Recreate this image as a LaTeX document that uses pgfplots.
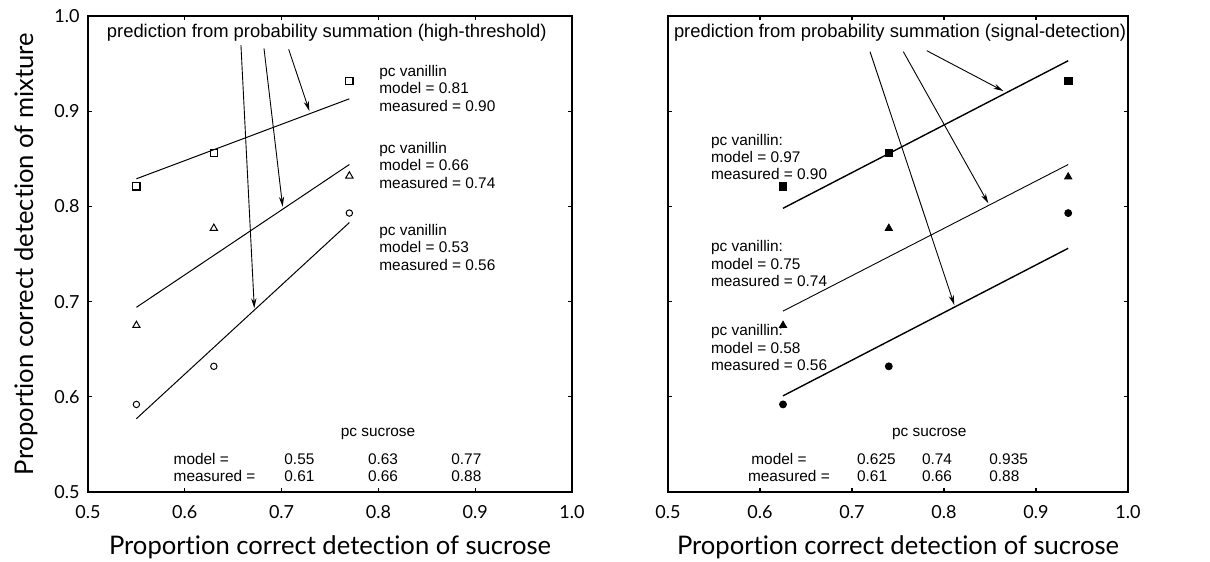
\documentclass[border=0pt]{standalone}
\usepackage{fontspec}
\setmainfont{Liberation Sans}
\newfontfamily\lato[Ligatures={NoCommon}]{Lato}
\usepackage{pgfplots}
\pgfplotsset{compat=1.18}
\usetikzlibrary{arrows.meta}

\pgfplotsset{
  panel/.style={
    scale only axis, anchor=south west, height=238pt,
    xmin=0.5, xmax=1.0, ymin=0.5, ymax=1.0,
    xtick={0.5,0.6,0.7,0.8,0.9,1.0},
    ytick={0.5,0.6,0.7,0.8,0.9,1.0},
    xticklabels={0.5,0.6,0.7,0.8,0.9,1.0},
    yticklabels={0.5,0.6,0.7,0.8,0.9,1.0},
    tick align=inside, major tick length=2.2pt,
    axis line style={line width=0.9pt},
    every tick/.style={black, line width=0.6pt},
    xticklabel style={font=\lato\fontsize{9}{10}\selectfont, anchor=north, inner sep=0pt, yshift=-6.6pt},
    yticklabel style={font=\lato\fontsize{9}{10}\selectfont, anchor=east, inner sep=0pt, xshift=-4pt},
    xlabel style={font=\lato\fontsize{12.8}{14}\selectfont, at={(axis description cs:0.5,0)}, anchor=center, yshift=-27.5pt},
    ylabel style={font=\lato\fontsize{12.8}{14}\selectfont, at={(axis description cs:0,0.5)}, anchor=center, yshift=31pt},
    clip=false,
  },
}
\tikzset{
  ann/.style={font=\fontsize{7.7}{8.65}\selectfont, align=left, anchor=west, inner sep=0pt},
  tab/.style={font=\fontsize{7.7}{8.65}\selectfont, anchor=west, inner sep=0pt},
  ttl/.style={font=\fontsize{9.2}{11}\selectfont, anchor=center, inner sep=0pt},
  arr/.style={-{Stealth[length=5pt,width=2.6pt]}, line width=0.45pt},
}

\begin{document}
\begin{tikzpicture}
\path[use as bounding box] (0,0) rectangle (605pt,281pt);

% ---------------- left panel: high-threshold ----------------
\begin{axis}[panel, at={(44pt,35pt)}, width=242pt,
  xlabel={Proportion correct detection of sucrose},
  ylabel={Proportion correct detection of mixture}]
  % model predictions
  \addplot[black, line width=0.5pt] coordinates {(0.55,0.829) (0.77,0.913)};
  \addplot[black, line width=0.5pt] coordinates {(0.55,0.694) (0.77,0.844)};
  \addplot[black, line width=0.5pt] coordinates {(0.55,0.577) (0.77,0.783)};
  % measured
  \addplot[only marks, mark=square, mark size=1.8pt, mark options={line width=0.55pt, black}] coordinates {(0.55,0.821) (0.63,0.856) (0.77,0.932)};
  \addplot[only marks, mark=triangle, mark size=2.1pt, mark options={line width=0.5pt, black}] coordinates {(0.55,0.675) (0.63,0.777) (0.77,0.832)};
  \addplot[only marks, mark=o, mark size=1.6pt, mark options={line width=0.5pt, black}] coordinates {(0.55,0.592) (0.63,0.632) (0.77,0.793)};
  % annotations
  \node[ttl] at (axis cs:0.7467,0.982) {prediction from probability summation (high-threshold)};
  \draw[arr] (axis cs:0.658,0.9695) -- (axis cs:0.6718,0.693);
  \draw[arr] (axis cs:0.6818,0.966) -- (axis cs:0.7011,0.7997);
  \draw[arr] (axis cs:0.7073,0.965) -- (axis cs:0.7287,0.9002);
  \node[ann] at (axis cs:0.8006,0.924) {pc vanillin\\model = 0.81\\measured = 0.90};
  \node[ann] at (axis cs:0.8006,0.843) {pc vanillin\\model = 0.66\\measured = 0.74};
  \node[ann] at (axis cs:0.8006,0.757) {pc vanillin\\model = 0.53\\measured = 0.56};
  \node[ttl, font=\fontsize{7.7}{8.65}\selectfont] at (axis cs:0.7996,0.5606) {pc sucrose};
  \node[tab] at (axis cs:0.5881,0.5347) {model =};
  \node[tab] at (axis cs:0.5881,0.5168) {measured =};
  \node[tab] at (axis cs:0.7025,0.5347) {0.55};
  \node[tab] at (axis cs:0.7025,0.5168) {0.61};
  \node[tab] at (axis cs:0.7889,0.5347) {0.63};
  \node[tab] at (axis cs:0.7889,0.5168) {0.66};
  \node[tab] at (axis cs:0.875,0.5347) {0.77};
  \node[tab] at (axis cs:0.875,0.5168) {0.88};
\end{axis}

% ---------------- right panel: signal-detection ----------------
\begin{axis}[panel, at={(334pt,35pt)}, width=230pt,
  yticklabels={},
  xlabel={Proportion correct detection of sucrose}]
  % model predictions
  \addplot[black, line width=0.7pt] coordinates {(0.625,0.798) (0.935,0.953)};
  \addplot[black, line width=0.45pt] coordinates {(0.625,0.690) (0.935,0.844)};
  \addplot[black, line width=0.7pt] coordinates {(0.625,0.601) (0.935,0.756)};
  % measured
  \addplot[only marks, mark=square*, mark size=1.9pt, mark options={black}] coordinates {(0.625,0.821) (0.74,0.856) (0.935,0.932)};
  \addplot[only marks, mark=triangle*, mark size=2.1pt, mark options={black}] coordinates {(0.625,0.675) (0.74,0.777) (0.935,0.831)};
  \addplot[only marks, mark=*, mark size=1.75pt, mark options={black}] coordinates {(0.625,0.592) (0.74,0.632) (0.935,0.793)};
  % annotations
  \node[ttl] at (axis cs:0.7522,0.982) {prediction from probability summation (signal-detection)};
  \draw[arr] (axis cs:0.7196,0.9625) -- (axis cs:0.8112,0.6964);
  \draw[arr] (axis cs:0.7558,0.9625) -- (axis cs:0.8482,0.8032);
  \draw[arr] (axis cs:0.7812,0.9636) -- (axis cs:0.8645,0.9212);
  \node[ann] at (axis cs:0.5464,0.852) {pc vanillin:\\model = 0.97\\measured = 0.90};
  \node[ann] at (axis cs:0.5464,0.740) {pc vanillin:\\model = 0.75\\measured = 0.74};
  \node[ann] at (axis cs:0.5464,0.6516) {pc vanillin:\\model = 0.58\\measured = 0.56};
  \node[ttl, font=\fontsize{7.7}{8.65}\selectfont] at (axis cs:0.784,0.5606) {pc sucrose};
  \node[tab] at (axis cs:0.5902,0.5347) {model =};
  \node[tab] at (axis cs:0.5866,0.5168) {measured =};
  \node[tab] at (axis cs:0.7051,0.5347) {0.625};
  \node[tab] at (axis cs:0.7051,0.5168) {0.61};
  \node[tab] at (axis cs:0.7757,0.5347) {0.74};
  \node[tab] at (axis cs:0.7757,0.5168) {0.66};
  \node[tab] at (axis cs:0.8489,0.5347) {0.935};
  \node[tab] at (axis cs:0.8489,0.5168) {0.88};
\end{axis}
\end{tikzpicture}
\end{document}
